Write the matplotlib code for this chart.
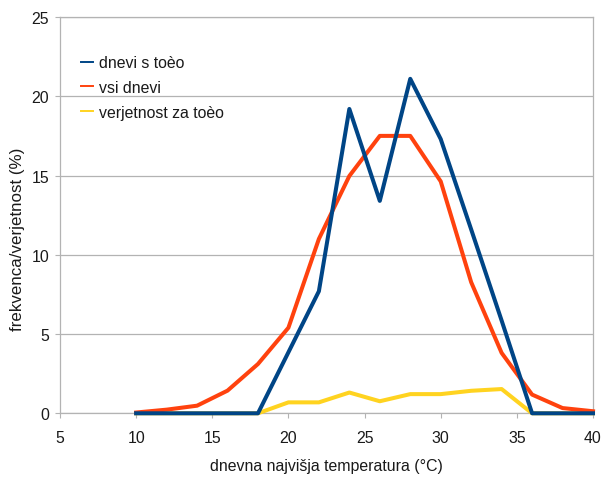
import matplotlib
matplotlib.use("Agg")
import matplotlib.pyplot as plt
from matplotlib import font_manager

# Daily maximum temperature classes (°C)
temperature = [10, 12, 14, 16, 18, 20, 22, 24, 26, 28, 30, 32, 34, 36, 38, 40]

# Frequency of days with hail (%)
hail_days = [0, 0, 0, 0, 0, 3.85, 7.7, 19.2, 13.4, 21.1, 17.3, 11.6, 5.85, 0, 0, 0]
# Frequency of all days (%)
all_days = [0.05, 0.23, 0.48, 1.43, 3.11, 5.4, 11.0, 14.97, 17.5, 17.5, 14.63, 8.27, 3.81, 1.18, 0.33, 0.13]
# Probability of hail (%)
hail_prob = [0, 0, 0, 0, 0, 0.69, 0.69, 1.31, 0.76, 1.21, 1.21, 1.42, 1.53, 0, 0, 0]

series_labels = ["dnevi s toèo", "vsi dnevi", "verjetnost za toèo"]
x_ticks = [5, 10, 15, 20, 25, 30, 35, 40]
y_ticks = [0, 5, 10, 15, 20, 25]
x_title = "dnevna najvišja temperatura (°C)"
y_title = "frekvenca/verjetnost (%)"

BLUE = "#004586"
ORANGE = "#ff420e"
YELLOW = "#ffd320"
GRID = "#b3b3b3"
TEXT = "#1a1a1a"


def have_font(name):
    try:
        font_manager.findfont(name, fallback_to_default=False)
        return True
    except Exception:
        return False


if have_font("Liberation Sans Narrow"):
    main_family = ["Liberation Sans Narrow", "Liberation Sans", "DejaVu Sans"]
    main_size = 13.4
else:
    main_family = ["Liberation Sans", "DejaVu Sans"]
    main_size = 11.4
label_family = ["Liberation Sans", "DejaVu Sans"]

plt.rcParams["font.family"] = main_family

fig = plt.figure(figsize=(6.03, 4.81), dpi=100)
ax = fig.add_axes([60 / 603, (481 - 414.3) / 481, 533 / 603, 396.3 / 481])

lw = 2.9
l_yel, = ax.plot(temperature, hail_prob, color=YELLOW, lw=lw, zorder=3,
                 solid_joinstyle="round", clip_on=False, label=series_labels[2])
l_org, = ax.plot(temperature, all_days, color=ORANGE, lw=lw, zorder=4,
                 solid_joinstyle="round", clip_on=False, label=series_labels[1])
l_blu, = ax.plot(temperature, hail_days, color=BLUE, lw=lw, zorder=5,
                 solid_joinstyle="round", clip_on=False, label=series_labels[0])

ax.set_xlim(5, 40)
ax.set_ylim(0, 25)
ax.set_xticks(x_ticks)
ax.set_yticks(y_ticks)
ax.set_xticklabels([str(v) for v in x_ticks])
ax.set_yticklabels([str(v) for v in y_ticks])

ax.grid(axis="y", color=GRID, lw=0.9, zorder=0)
ax.set_axisbelow(True)
for side in ["left", "right", "top", "bottom"]:
    ax.spines[side].set_color(GRID)
    ax.spines[side].set_linewidth(0.9)

ax.tick_params(axis="both", direction="out", length=3.8, width=0.8, color=GRID,
               labelcolor=TEXT, labelsize=main_size)
ax.tick_params(axis="x", pad=8.0)
ax.tick_params(axis="y", pad=4.0)

ax.set_xlabel(x_title, fontsize=main_size, color=TEXT)
ax.xaxis.set_label_coords(0.5, -0.113)
ax.set_ylabel(y_title, fontsize=12.2, color=TEXT, family=label_family)
ax.yaxis.set_label_coords(-0.066, 0.442)

leg = ax.legend(handles=[l_blu, l_org, l_yel], loc="upper left",
                bbox_to_anchor=(0.0388, 0.904), frameon=False, borderpad=0,
                borderaxespad=0, handlelength=0.8, handletextpad=0.36,
                labelspacing=0.62, fontsize=main_size)
for h in leg.legend_handles:
    h.set_linewidth(1.4)
for t in leg.get_texts():
    t.set_color(TEXT)

fig.savefig("out.png", dpi=100)
